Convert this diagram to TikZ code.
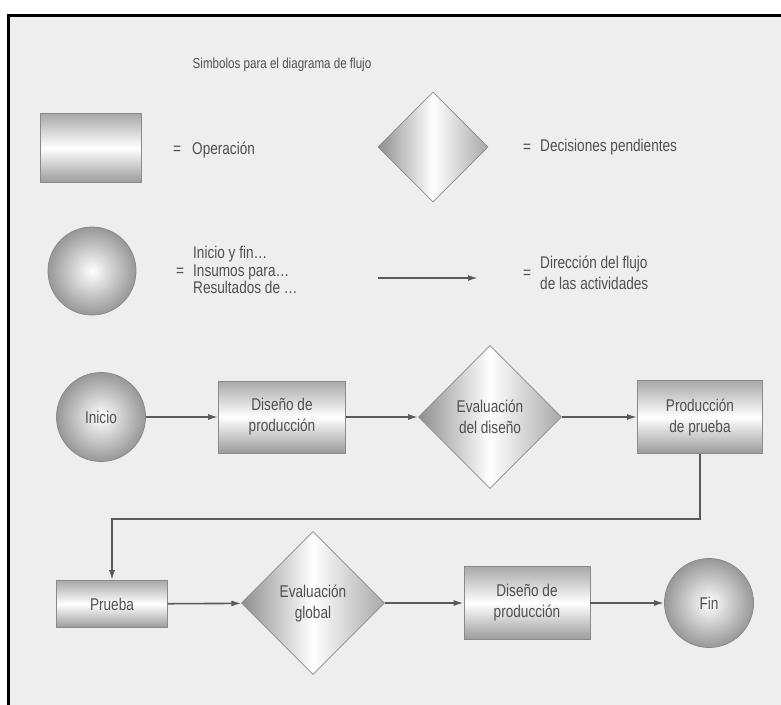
\documentclass[tikz,border=0pt]{standalone}
\usepackage{fontspec}
\setmainfont{Liberation Sans}[FakeStretch=0.8]
\usetikzlibrary{shapes.geometric,arrows.meta}
\definecolor{bg}{HTML}{EEEEEE}
\definecolor{txt}{HTML}{505050}
\definecolor{edge}{HTML}{8A8A8A}
\definecolor{shade}{HTML}{A8A8A8}
\definecolor{lineg}{HTML}{5A5A5A}
\tikzset{
  lbl/.style={text=txt, font=\fontsize{17}{21}\selectfont, inner sep=0pt, align=left},
  opbox/.style={draw=edge, line width=0.8pt, top color=shade, bottom color=shade!92!black, middle color=white,
     inner sep=0pt, text=txt, font=\fontsize{17}{21}\selectfont, align=center},
  ball/.style={circle, draw=edge, line width=0.8pt, inner color=white, outer color=shade!90!black,
     minimum size=89pt, inner sep=0pt, text=txt, font=\fontsize{17}{21}\selectfont},
  decision/.style={diamond, draw=edge, line width=0.8pt, left color=shade!85!black, right color=shade, middle color=white,
     minimum width=143pt, minimum height=143pt, inner sep=0pt, text=txt, font=\fontsize{17}{21}\selectfont, align=center},
  flow/.style={draw=lineg, line width=1.6pt, -{Latex[length=10pt,width=6pt]}},
}
\begin{document}
\begin{tikzpicture}[x=1pt,y=-1pt]
\useasboundingbox (0,0) rectangle (781,704);
\clip (0,0) rectangle (781,704);
\fill[white] (0,0) rectangle (781,704);
\draw[line width=3pt, fill=bg] (8.5,15.5) rectangle (800,730);

% title
\node[lbl, font=\fontsize{14.5}{17}\selectfont] (title) at (282,65) {Simbolos para el diagrama de flujo};

% legend
\node[opbox, minimum width=101pt, minimum height=69pt] (lrect) at (91,148) {};
\node[lbl] (eq1) at (177,150) {=};
\node[lbl, anchor=west] (lop) at (192,150) {Operación};

\node[decision, minimum width=110pt, minimum height=110pt] (ldia) at (433,147) {};
\node[lbl] (eq2) at (527,148) {=};
\node[lbl, anchor=west] (ldec) at (540,147) {Decisiones pendientes};

\node[ball, minimum size=88pt] (lcirc) at (92,271) {};
\node[lbl] (eq3) at (180,272) {=};
\node[lbl, anchor=west, font=\fontsize{17}{17.5}\selectfont] (lini) at (193,270) {Inicio y fin\dots\\Insumos para\dots\\Resultados de \dots};

\coordinate (la1) at (378,278);
\coordinate (la2) at (478,278);
\draw[flow] (la1) -- (la2);
\node[lbl] (eq4) at (527,274) {=};
\node[lbl, anchor=west] (ldir) at (540,273) {Dirección del flujo\\de las actividades};

% row 1
\node[ball] (inicio) at (101,417) {Inicio};
\node[opbox, minimum width=127pt, minimum height=72pt] (dp1) at (282,417) {Diseño de\\producción};
\node[decision] (ed) at (490,417) {Evaluación\\del diseño};
\node[opbox, minimum width=125pt, minimum height=73pt] (pp) at (700,417) {Producción\\de prueba};

\draw[flow] (inicio) -- (dp1);
\draw[flow] (dp1) -- (ed);
\draw[flow] (ed) -- (pp);

% row 2
\node[opbox, minimum width=111pt, minimum height=47pt] (pr) at (112,604) {Prueba};
\node[decision] (eg) at (313,603) {Evaluación\\global};
\node[opbox, minimum width=126pt, minimum height=73pt] (dp2) at (527,603) {Diseño de\\producción};
\node[ball] (fin) at (709,603) {Fin};

\coordinate (bend) at (0,519);
\draw[flow] (pp.south) -- (pp.south |- bend) -- (pr.north |- bend) -- (pr.north);
\draw[flow] (pr) -- (eg);
\draw[flow] (eg) -- (dp2);
\draw[flow] (dp2) -- (fin);
\end{tikzpicture}
\end{document}
